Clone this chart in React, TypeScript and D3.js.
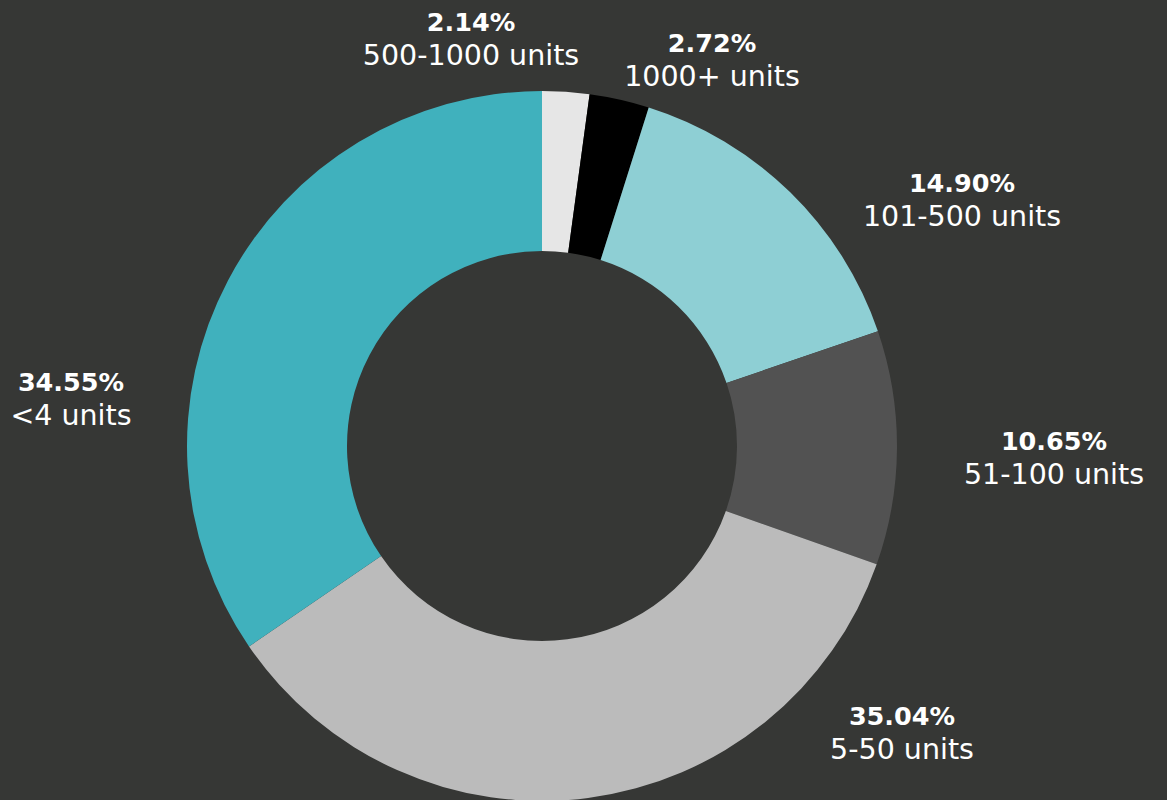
import React from "react";
import * as d3 from "d3";

const categories = ["500-1000 units", "1000+ units", "101-500 units", "51-100 units", "5-50 units", "<4 units"];
const values = [2.14, 2.72, 14.9, 10.65, 35.04, 34.55];
const colors = ["#e6e6e6", "#000000", "#8ecfd4", "#525252", "#bbbbbb", "#40b1bd"];

// label anchor (center x, baseline of bold line) for each slice
const labelAnchors: [number, number][] = [
  [471, 31],
  [712, 52],
  [962, 192],
  [1054, 450],
  [902, 725],
  [71, 391],
];

const W = 1167;
const H = 800;
const CX = 542;
const CY = 446;
const R_OUT = 355;
const R_IN = 195;
const FONT = "'DejaVu Sans', 'Open Sans', sans-serif";

export default function App() {
  const pie = d3.pie<number>().sort(null).value((d) => d)(values);
  const arc = d3.arc<d3.PieArcDatum<number>>().innerRadius(R_IN).outerRadius(R_OUT);
  return (
    <svg width={W} height={H} style={{ position: "absolute", left: 0, top: 0, display: "block" }}>
      <rect x={0} y={0} width={W} height={H} fill="#363735" />
      <g transform={`translate(${CX},${CY})`}>
        {pie.map((p, i) => (
          <path key={i} d={arc(p) || ""} fill={colors[i]} />
        ))}
      </g>
      {pie.map((p, i) => {
        const [x, y] = labelAnchors[i];
        return (
          <g key={"l" + i} fontFamily={FONT} fill="#ffffff" textAnchor="middle">
            <text x={x} y={y} fontSize={25.5} fontWeight="bold">
              {values[i].toFixed(2)}%
            </text>
            <text x={x} y={y + 34} fontSize={28.5}>
              {categories[i]}
            </text>
          </g>
        );
      })}
    </svg>
  );
}
